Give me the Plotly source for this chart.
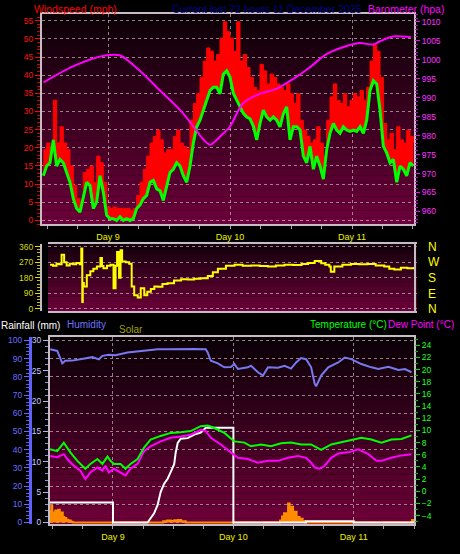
import plotly.graph_objects as go

W, H = 460, 554
FONT = "Liberation Sans, Arial, sans-serif"

# ---------------- data (hours counted from Day 8 00:00) ----------------
# wind samples, regular logging interval
wind_start_h = 11.26
wind_step_h = 0.656
wind_avg = [12.3, 15.0, 15.9, 22.2, 15.0, 16.8, 15.9, 13.2, 10.5, 6.0,
            3.3, 2.3, 6.9, 10.5, 9.6, 3.3, 5.1, 12.3, 7.8, 1.4,
            0.5, 0.5, 0.0, 1.0, 0.0, 0.5, 0.0, 0.5, 3.3, 4.2,
            6.0, 6.9, 10.5, 11.0, 8.7, 8.2, 5.5, 9.6, 13.2, 14.1,
            15.9, 15.0, 12.3, 10.5, 15.0, 21.3, 25.8, 27.6, 30.4, 33.1,
            35.8, 36.7, 36.7, 34.9, 40.3, 41.2, 39.4,
            35.0, 33.1, 31.0, 29.5, 28.5, 28.0, 26.0, 22.2, 26.7, 30.4,
            28.5, 27.6, 28.5, 27.6, 25.8, 29.4, 31.3, 22.2, 25.8, 25.8,
            24.9, 17.7, 15.9, 20.4, 14.1, 17.7, 15.0, 11.4, 19.5, 24.0,
            26.7, 24.9, 24.0, 25.8, 24.9, 24.5, 24.9, 24.5, 25.8, 24.0,
            27.6, 35.8, 38.5, 37.6, 30.4, 20.4, 18.6, 15.9, 16.8, 10.5,
            15.0, 14.1, 12.3, 15.9, 15.0]
wind_gust = [19.5, 21.3, 19.5, 33.1, 21.3, 25.8, 21.3, 19.5, 15.0, 9.6,
             6.0, 5.1, 13.2, 14.1, 15.0, 10.5, 17.7, 15.9, 10.5, 3.7,
             3.3, 3.7, 3.3, 3.3, 3.3, 3.3, 2.8, 3.3, 6.9, 10.5,
             14.1, 17.7, 21.3, 23.1, 24.9, 22.2, 18.6, 19.5, 19.5, 23.1,
             24.9, 21.3, 20.4, 19.5, 27.6, 32.2, 34.9, 39.4, 43.9, 47.5,
             46.6, 43.9, 45.7, 50.2, 54.7, 52.0, 50.2,
             46.6, 54.7, 43.9, 45.7, 42.1, 39.4, 36.7, 35.8, 43.0, 41.2,
             37.6, 40.3, 39.4, 37.6, 36.7, 35.8, 37.6, 34.9, 32.2, 34.9,
             27.6, 24.9, 23.1, 21.3, 22.2, 25.8, 21.3, 17.7, 27.6, 34.0,
             37.6, 33.1, 32.2, 34.9, 31.3, 33.1, 34.9, 34.0, 35.8, 33.1,
             36.7, 43.9, 48.4, 46.6, 39.4, 26.7, 22.2, 24.0, 19.5, 25.8,
             22.2, 21.3, 24.9, 23.1, 21.3]
wind_hours = [wind_start_h + i * wind_step_h for i in range(len(wind_avg))]

baro_hours = [11.3, 17.2, 23.4, 26.4, 30.3, 34.2, 38.2, 40.8, 42.8, 44.1, 46.4, 48.0,
              50.5, 53.8, 57.1, 60.4, 63.6, 66.9, 70.2, 73.5, 76.1, 77.4, 80.0, 83.6]
baro_hpa = [994.0, 998.3, 1001.1, 1001.1, 997.0, 991.9, 986.7, 982.4, 978.9, 977.6, 980.2, 982.4,
            988.4, 991.0, 992.3, 994.9, 997.9, 1001.4, 1003.3, 1004.4, 1004.0, 1004.8, 1006.1, 1005.9]

dir_hours = [11.4, 12.0, 12.7, 13.2, 13.7, 14.2, 14.7, 15.3, 16.0, 16.6,
             17.3, 17.6, 17.8, 17.9, 18.1, 18.7, 19.4, 20.0, 20.7, 21.4,
             21.7, 22.0, 22.7, 23.4, 24.0, 24.4, 24.7, 25.1, 25.4, 25.7,
             26.4, 27.1, 27.6, 28.1, 28.8, 29.4, 30.1, 30.7, 31.4, 32.1,
             32.8, 33.7, 34.7, 36.0, 37.4, 38.7, 40.0, 41.3, 42.7, 43.7,
             44.7, 46.3, 48.0, 49.6, 51.3, 53.0, 54.6, 56.2, 57.9, 59.6,
             61.3, 62.6, 63.9, 65.2, 66.0, 66.8, 67.1, 67.8, 69.4, 71.1,
             72.7, 74.4, 76.0, 77.7, 78.7, 79.7, 81.0, 82.3, 83.6]
dir_deg = [256, 250, 262, 258, 313, 270, 252, 262, 258, 266,
           258, 350, 40, 150, 130, 195, 218, 232, 246, 294,
           248, 235, 250, 256, 120, 250, 330, 180, 340, 275,
           270, 262, 130, 80, 66, 120, 80, 100, 115, 130,
           128, 145, 148, 165, 172, 170, 175, 178, 190, 212,
           232, 250, 255, 250, 252, 248, 246, 252, 256, 254,
           260, 266, 278, 265, 256, 246, 215, 246, 255, 260,
           258, 260, 252, 246, 232, 228, 238, 236, 242]

hum_hours = [11.5, 12.9, 13.9, 14.5, 15.9, 17.2, 18.5, 19.9, 21.2, 21.9,
             23.2, 24.5, 26.9, 28.9, 30.9, 32.9, 34.9, 37.5, 40.2, 42.5,
             42.9, 43.5, 44.9, 46.2, 47.5, 48.2, 48.9, 50.9, 51.5, 52.9,
             53.9, 54.9, 56.9, 58.2, 59.5, 60.5, 61.5, 62.5, 63.5, 64.2,
             64.5, 65.5, 66.9, 68.9, 70.2, 71.5, 73.5, 75.5, 76.9, 78.9,
             80.9, 82.2, 83.5]
hum_pct = [95.1, 94.2, 87.4, 88.8, 88.9, 89.5, 90.3, 90.8, 89.6, 91.5,
           92.1, 91.8, 93.3, 93.9, 94.6, 95.1, 95.1, 95.3, 95.3, 95.1,
           93.3, 88.8, 87.4, 85.2, 85.4, 87.0, 84.3, 85.2, 86.1, 82.5,
           80.7, 85.2, 85.0, 86.1, 84.5, 87.9, 90.3, 89.7, 85.2, 76.2,
           74.8, 80.7, 85.2, 87.9, 90.6, 89.7, 87.0, 85.2, 84.3, 85.5,
           83.8, 84.3, 82.5]

temp_hours = [11.5, 12.9, 14.2, 15.5, 16.9, 18.5, 19.5, 20.9, 21.9, 22.9,
              23.5, 24.2, 25.5, 26.5, 27.5, 28.9, 30.2, 31.5, 33.5, 35.5,
              37.5, 39.5, 41.5, 42.9, 44.2, 46.2, 48.2, 50.2, 51.5, 53.5,
              55.5, 57.5, 59.5, 61.5, 63.5, 65.5, 67.5, 69.5, 71.5, 73.5,
              75.5, 77.5, 79.5, 81.5, 83.5]
temp_c = [6.9, 6.6, 8.0, 6.4, 5.0, 3.7, 4.5, 5.3, 4.5, 5.7,
          5.0, 4.5, 4.5, 3.7, 4.5, 5.3, 7.2, 8.5, 9.1, 9.6,
          9.7, 9.9, 10.7, 10.8, 10.4, 9.6, 8.2, 8.0, 7.4, 7.7,
          7.4, 7.9, 8.0, 7.7, 7.7, 6.8, 7.7, 8.1, 8.5, 8.8,
          8.5, 8.0, 8.5, 8.6, 9.2]

dew_hours = [11.5, 12.9, 14.2, 14.9, 16.2, 17.5, 18.5, 19.5, 20.9, 21.9,
             22.5, 23.2, 24.2, 25.5, 26.5, 27.5, 28.9, 30.2, 31.5, 33.5,
             35.5, 37.5, 39.5, 41.5, 42.5, 43.5, 45.5, 47.5, 48.9, 50.9,
             52.9, 54.9, 56.9, 58.9, 60.9, 62.5, 63.5, 64.2, 65.2, 66.2,
             67.5, 68.9, 70.9, 72.9, 74.9, 76.5, 77.5, 79.5, 81.5, 83.5]
dew_c = [5.8, 5.6, 6.1, 5.3, 4.2, 3.4, 2.0, 3.1, 3.9, 3.4,
         4.2, 3.1, 3.7, 3.1, 2.6, 3.7, 4.5, 6.6, 7.4, 8.2,
         8.8, 9.0, 9.3, 10.1, 9.9, 8.8, 7.7, 6.4, 5.5, 5.3,
         4.7, 5.0, 5.0, 5.5, 5.8, 5.5, 4.7, 3.9, 3.7, 4.2,
         5.5, 6.2, 6.4, 6.9, 6.1, 5.0, 5.0, 5.5, 5.9, 6.1]

# daily rainfall accumulation (resets at midnight)
rain_hours = [11.45, 24.0, 24.0, 30.9, 31.5, 32.2, 32.9, 33.5, 34.2, 34.9,
              35.5, 36.2, 36.5, 36.9, 37.5, 38.9, 40.2, 41.5, 42.5, 48.0,
              48.0, 62.5, 62.5, 72.0, 72.0, 84.0]
rain_mm = [3.3, 3.3, 0.0, 0.0, 0.7, 1.5, 2.9, 5.0, 6.4, 7.2,
           8.3, 9.6, 11.5, 13.1, 13.8, 13.9, 14.5, 14.8, 15.6, 15.6,
           0.0, 0.0, 0.2, 0.2, 0.0, 0.0]

solar_hours = [11.45, 11.7, 11.9, 12.2, 12.5, 12.8, 13.1, 13.4, 13.7, 14.0,
               14.3, 14.7, 15.1, 15.6, 16.0, 33.5, 34.0, 34.8, 35.5, 36.2,
               37.0, 37.6, 38.5, 56.9, 57.3, 57.7, 58.1, 58.5, 58.9, 59.2,
               59.5, 59.9, 60.2, 60.6, 61.2, 61.8, 62.3, 83.3, 83.6, 84.0]
solar_wm2 = [60, 92, 55, 45, 65, 50, 70, 40, 55, 30,
             25, 15, 10, 4, 0, 0, 6, 10, 8, 12,
             14, 6, 0, 0, 10, 32, 50, 40, 104, 68,
             86, 45, 59, 30, 20, 8, 0, 0, 14, 14]

day_ticks = [24, 48, 72]
day_labels = ["Day 9", "Day 10", "Day 11"]
wind_ticks = list(range(0, 60, 5))
baro_ticks = list(range(960, 1015, 5))
dir_ticks = [0, 90, 180, 270, 360]
compass = ["N", "E", "S", "W", "N"]
hum_ticks = list(range(0, 110, 10))
rain_ticks = list(range(0, 35, 5))
temp_ticks = list(range(-4, 26, 2))

# ---------------- helpers ----------------
def fx(px):
    return px / W

def fy(py):
    return 1 - py / H

GRID = "rgba(205,180,195,0.7)"
BORDER = "#c8bcc4"

def gradient(xref, yref, top, bottom, n=30):
    out = []
    for i in range(n):
        f = i / (n - 1)
        c = tuple(round(top[k] + (bottom[k] - top[k]) * f) for k in range(3))
        out.append(dict(type="rect", xref=xref, yref=yref, x0=0, x1=1,
                        y0=1 - (i + 1) / n, y1=1 - i / n,
                        fillcolor="rgb(%d,%d,%d)" % c, line=dict(width=0), layer="below"))
    return out

fig = go.Figure()

# ---- panel 1: wind + barometer ----
fig.add_trace(go.Scatter(x=wind_hours, y=wind_avg, mode="lines", xaxis="x", yaxis="y",
                         line=dict(width=0, color="rgba(0,0,0,0)"), hoverinfo="skip"))
fig.add_trace(go.Scatter(x=wind_hours, y=wind_gust, mode="lines", xaxis="x", yaxis="y",
                         fill="tonexty", fillcolor="#ff0000",
                         line=dict(width=1, color="#ff0000", shape="hv")))
fig.add_trace(go.Scatter(x=wind_hours, y=wind_avg, mode="lines", xaxis="x", yaxis="y",
                         line=dict(width=3, color="#00ff00")))
fig.add_trace(go.Scatter(x=baro_hours, y=baro_hpa, mode="lines", xaxis="x", yaxis="y2",
                         line=dict(width=2, color="#ff00ff", shape="spline", smoothing=0.8)))

# ---- panel 2: wind direction ----
fig.add_trace(go.Scatter(x=dir_hours, y=dir_deg, mode="lines", xaxis="x2", yaxis="y3",
                         line=dict(width=2, color="#ffff00", shape="hv")))
fig.add_trace(go.Scatter(x=[dir_hours[0]], y=[dir_deg[0]], mode="markers", xaxis="x2", yaxis="y4",
                         marker=dict(opacity=0), hoverinfo="skip"))

# ---- panel 3: solar, rain, humidity, temperature, dew point ----
fig.add_trace(go.Scatter(x=solar_hours, y=solar_wm2, mode="lines", xaxis="x3", yaxis="y5",
                         fill="tozeroy", fillcolor="#ff8c00",
                         line=dict(width=2, color="#ff8c00", shape="hv")))
fig.add_trace(go.Scatter(x=rain_hours, y=rain_mm, mode="lines", xaxis="x3", yaxis="y6",
                         line=dict(width=2, color="#ffffff")))
fig.add_trace(go.Scatter(x=hum_hours, y=hum_pct, mode="lines", xaxis="x3", yaxis="y7",
                         line=dict(width=2, color="#7878f0")))
fig.add_trace(go.Scatter(x=dew_hours, y=dew_c, mode="lines", xaxis="x3", yaxis="y8",
                         line=dict(width=2, color="#ff00ff")))
fig.add_trace(go.Scatter(x=temp_hours, y=temp_c, mode="lines", xaxis="x3", yaxis="y8",
                         line=dict(width=2, color="#00ff00")))

tickfont = lambda c: dict(family=FONT, size=8.5, color=c)

xcommon = dict(tickvals=day_ticks, ticktext=day_labels, ticks="outside", ticklen=3,
               tickcolor="#b0a0a8", tickfont=dict(family=FONT, size=9, color="#f0f000"),
               showgrid=True, gridcolor=GRID, griddash="dot", gridwidth=1,
               showline=True, linecolor=BORDER, linewidth=2, mirror=True, zeroline=False,
               minor=dict(dtick=6, tick0=0, ticklen=3, ticks="outside", tickcolor="#b0a0a8", showgrid=False))

layout = dict(
    width=W, height=H, margin=dict(l=0, r=0, t=0, b=0),
    paper_bgcolor="#000000", plot_bgcolor="#000000", showlegend=False,
    font=dict(family=FONT),
    xaxis=dict(domain=[fx(42), fx(414)], anchor="y", range=[11, 84.2], **xcommon),
    yaxis=dict(domain=[fy(224), fy(10)], range=[-1.08, 56.9], tickvals=wind_ticks,
               ticks="outside", ticklen=5, tickcolor="#ff0000", tickfont=tickfont("#ff1010"),
               minor=dict(dtick=1, ticklen=3, ticks="outside", tickcolor="#d00000"),
               showgrid=True, gridcolor=GRID, griddash="dot",
               showline=True, linecolor=BORDER, linewidth=2, mirror=True, zeroline=False),
    yaxis2=dict(overlaying="y", side="right", anchor="x", range=[956.6, 1012.1], tickvals=baro_ticks,
                ticks="outside", ticklen=5, tickcolor="#ff00ff", tickfont=tickfont("#ff30ff"),
                minor=dict(dtick=1, ticklen=3, ticks="outside", tickcolor="#d000d0"),
                showgrid=False, zeroline=False),
    xaxis2=dict(domain=[fx(48), fx(417)], anchor="y3", range=[11, 84.2], showticklabels=False,
                ticks="", showgrid=False, showline=True, linecolor=BORDER, linewidth=2,
                mirror=True, zeroline=False),
    yaxis3=dict(domain=[fy(312), fy(244)], range=[-11.4, 375.4], tickvals=dir_ticks,
                ticks="outside", ticklen=5, tickcolor="#e0e000", tickfont=tickfont("#d8d800"),
                minor=dict(dtick=18, ticklen=3, ticks="outside", tickcolor="#c0c000"),
                showgrid=True, gridcolor=GRID, griddash="dot",
                showline=True, linecolor=BORDER, linewidth=2, mirror=True, zeroline=False),
    yaxis4=dict(overlaying="y3", side="right", anchor="x2", range=[-11.4, 375.4], tickvals=dir_ticks,
                ticktext=compass, ticks="", ticklabelstandoff=10,
                tickfont=dict(family=FONT, size=12, color="#ffff00"), showgrid=False, zeroline=False),
    xaxis3=dict(domain=[fx(50), fx(414)], anchor="y5", range=[11.45, 84.0], **xcommon),
    yaxis5=dict(domain=[fy(529), fy(339)], range=[-10.8, 1016], visible=False, showgrid=False),
    yaxis6=dict(overlaying="y5", side="left", anchor="x3", range=[-0.32, 30.49], tickvals=rain_ticks,
                ticks="outside", ticklen=5, tickcolor="#b0b0ff", tickfont=tickfont("#c8c8ff"),
                minor=dict(dtick=1, ticklen=3, ticks="outside", tickcolor="#9090e0"),
                showgrid=False, showline=True, linecolor=BORDER, linewidth=2, mirror=True,
                zeroline=False),
    yaxis7=dict(overlaying="y5", side="left", anchor="free", position=fx(30), range=[-1.08, 101.6],
                tickvals=hum_ticks, ticks="outside", ticklen=5, tickcolor="#6868ff",
                tickfont=tickfont("#6c6cff"),
                minor=dict(dtick=2, ticklen=3, ticks="outside", tickcolor="#6060e0"),
                showgrid=True, gridcolor=GRID, griddash="dot",
                showline=True, linecolor="#6060ff", linewidth=3, zeroline=False),
    yaxis8=dict(overlaying="y5", side="right", anchor="x3", range=[-5.45, 25.29], tickvals=temp_ticks,
                ticks="outside", ticklen=5, tickcolor="#00e000", tickfont=tickfont("#20ff20"),
                minor=dict(dtick=1, ticklen=3, ticks="outside", tickcolor="#00c000"),
                showgrid=False, zeroline=False),
)
fig.update_layout(**layout)

shapes = []
shapes += gradient("x domain", "y domain", (12, 0, 6), (108, 0, 58))
shapes += gradient("x2 domain", "y3 domain", (22, 0, 12), (108, 0, 58), n=14)
shapes += gradient("x3 domain", "y5 domain", (10, 0, 6), (110, 0, 56))
fig.update_layout(shapes=shapes)

def label(text, x_px, y_px, color, size):
    return dict(text=text, xref="paper", yref="paper", x=fx(x_px), y=fy(y_px),
                xanchor="left", yanchor="middle", showarrow=False,
                font=dict(family=FONT, size=size, color=color))

fig.update_layout(annotations=[
    label("Windspeed (mph)", 32, 5, "#ff0000", 10.5),
    label("Current last 72 hours 11 December 2025", 170, 5, "#000090", 10.5),
    label("Barometer (hpa)", 366, 5, "#ff00ff", 10.5),
    label("Rainfall (mm)", -1, 327, "#ffffff", 10),
    label("Humidity", 65, 326, "#7070ff", 10),
    label("Solar", 117, 331, "#a0a000", 10),
    label("Temperature (°C)", 308, 326, "#00ff00", 10),
    label("Dew Point (°C)", 386, 326, "#ff00ff", 10),
])

fig.write_html("out.html", config={"displayModeBar": False},
               post_script="document.body.style.margin='0px';document.body.style.overflow='hidden';")
